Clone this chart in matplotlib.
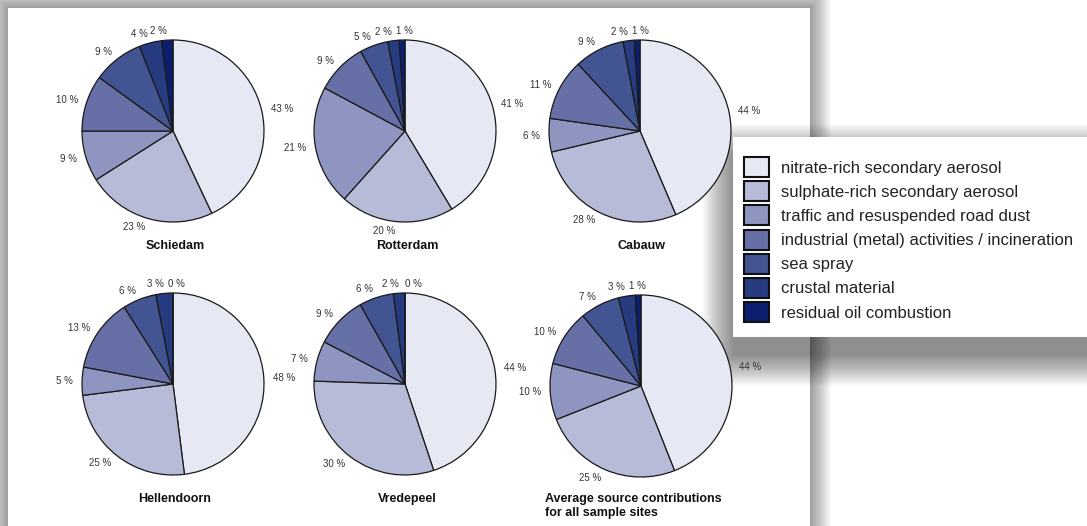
import matplotlib
matplotlib.use("Agg")
import matplotlib.pyplot as plt
from matplotlib.patches import Rectangle, Patch

plt.rcParams['font.family'] = ['Liberation Sans', 'DejaVu Sans']

W, H = 1087, 526

sources = ['nitrate-rich secondary aerosol', 'sulphate-rich secondary aerosol',
           'traffic and resuspended road dust', 'industrial (metal) activities / incineration',
           'sea spray', 'crustal material', 'residual oil combustion']
colors = ['#E6E8F4', '#B6BBD8', '#8D95C0', '#6670A6', '#435492', '#263B80', '#0C1F6E']

sites = ['Schiedam', 'Rotterdam', 'Cabauw', 'Hellendoorn', 'Vredepeel',
         'Average source contributions\nfor all sample sites']
schiedam = [43, 23, 9, 10, 9, 4, 2]
rotterdam = [41, 20, 21, 9, 5, 2, 1]
cabauw = [44, 28, 6, 11, 9, 2, 1]
hellendoorn = [48, 25, 5, 13, 6, 3, 0]
vredepeel = [44, 30, 7, 9, 6, 2, 0]
average = [44, 25, 10, 10, 7, 3, 1]
values = [schiedam, rotterdam, cabauw, hellendoorn, vredepeel, average]

# pie centres in pixels (from top-left)
centres = [(173, 131), (405, 131), (640, 131), (173, 384), (405, 384), (641, 386)]


def fx(x):
    return x / W


def fy(y):
    return 1 - y / H


def soft_shadow(fig, x0, y0, x1, y1, dy=0, n=22, alpha=0.02, z=-30):
    # stack of growing translucent rectangles -> fading shadow
    for i in range(n):
        r = Rectangle((fx(x0 - i), fy(y1 + dy + i)), (x1 - x0 + 2 * i) / W,
                      (y1 - y0 + 2 * i) / H, transform=fig.transFigure,
                      facecolor='black', edgecolor='none', alpha=alpha, zorder=z)
        fig.patches.append(r)


fig = plt.figure(figsize=(W / 100, H / 100), dpi=100)
fig.patch.set_facecolor('white')

# white panel with a soft shadow
soft_shadow(fig, 8, 8, 810, 560, n=22, alpha=0.02, z=-30)
fig.patches.append(Rectangle((fx(8), fy(560)), (810 - 8) / W, (560 - 8) / H,
                             transform=fig.transFigure, facecolor='white',
                             edgecolor='none', zorder=-25))

# legend shadow sits under the pies
soft_shadow(fig, 733, 137, 1120, 337, dy=18, n=32, alpha=0.015, z=-22)

renderer = fig.canvas.get_renderer()
R = 91
half = 120
for i, (name, vals, (cx, cy)) in enumerate(zip(sites, values, centres)):
    ax = fig.add_axes([fx(cx - half), fy(cy + half), 2 * half / W, 2 * half / H])
    lim = half / R
    wedges, texts = ax.pie(vals, colors=colors, startangle=90, counterclock=False,
                           labels=['%d %%' % v for v in vals], labeldistance=1.1,
                           wedgeprops=dict(edgecolor='#1a1a1a', linewidth=0.9),
                           textprops=dict(fontsize=7, color='#333333'))
    ax.set_xlim(-lim, lim)
    ax.set_ylim(-lim, lim)
    ax.set_aspect('equal')
    ax.axis('off')
    ax.patch.set_alpha(0)

    # push crowded labels at the top apart
    for j in range(1, len(texts)):
        a = texts[j - 1].get_window_extent(renderer)
        b = texts[j].get_window_extent(renderer)
        if a.overlaps(b):
            x, y = texts[j].get_position()
            texts[j].set_position((x + (a.x1 + 4 - b.x0) / R, y))

    if i < 5:
        fig.text(fx(cx + 2), fy(cy + 115), name, ha='center', va='center',
                 fontsize=9, fontweight='bold', color='#111111')
    else:
        fig.text(fx(545), fy(506), name, ha='left', va='center',
                 fontsize=9, fontweight='bold', color='#111111', linespacing=1.25)

# legend box
fig.patches.append(Rectangle((fx(733), fy(337)), (1100 - 733) / W, (337 - 137) / H,
                             transform=fig.transFigure, facecolor='white',
                             edgecolor='none', zorder=6))

handles = [Patch(facecolor=c, edgecolor='#111111', linewidth=1.5) for c in colors]
leg = fig.legend(handles, sources, loc='upper left', bbox_to_anchor=(fx(744), fy(157)),
                 frameon=False, fontsize=12, borderpad=0, borderaxespad=0,
                 handlelength=1.5, handleheight=1.47, handletextpad=0.72,
                 labelspacing=0.25, labelcolor='#222222')
leg.set_zorder(10)

fig.savefig('out.png', dpi=100)
